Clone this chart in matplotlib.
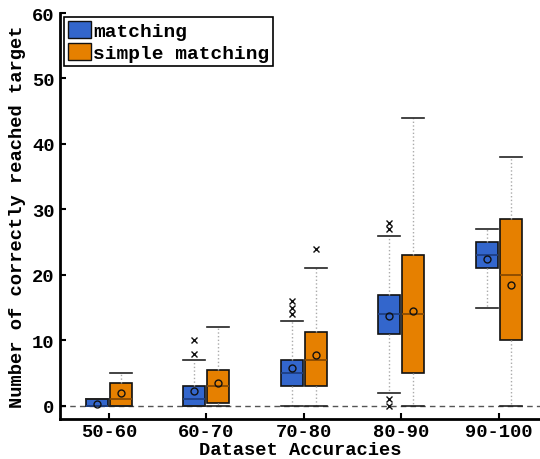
import matplotlib
matplotlib.use("Agg")
import matplotlib.pyplot as plt
from matplotlib.patches import Patch

groups = ["50-60", "60-70", "70-80", "80-90", "90-100"]

# matching
m_low = [0, 0, 0, 2, 15]
m_q1 = [0, 0, 3, 11, 21]
m_med = [0, 1, 5, 14, 23]
m_q3 = [1, 3, 7, 17, 25]
m_high = [1, 7, 13, 26, 27]
m_mean = [0.3, 2.2, 5.8, 13.8, 22.5]
m_fliers = [[], [8, 10], [14, 15, 16], [0, 1, 27, 28], []]

# simple matching
s_low = [0, 0, 0, 0, 0]
s_q1 = [0, 0.5, 3, 5, 10]
s_med = [1, 3, 7, 14, 20]
s_q3 = [3.5, 5.5, 11.3, 23, 28.5]
s_high = [5, 12, 21, 44, 38]
s_mean = [1.9, 3.5, 7.7, 14.5, 18.4]
s_fliers = [[], [], [24], [], []]

blue = "#3366cc"
orange = "#e68000"

plt.rcParams['font.family'] = ['Liberation Mono', 'DejaVu Sans Mono']
plt.rcParams['font.weight'] = 'bold'
plt.rcParams['axes.labelweight'] = 'bold'
plt.rcParams['font.size'] = 13.5

fig = plt.figure(figsize=(5.4, 4.6), dpi=100)
ax = fig.add_axes([60/540, 40/460, 480/540, 406/460])


def stats(low, q1, med, q3, high, mean, fl):
    return [dict(whislo=a, q1=b, med=c, q3=d, whishi=e, mean=f, fliers=g)
            for a, b, c, d, e, f, g in zip(low, q1, med, q3, high, mean, fl)]


off = 0.123
w = 0.225
for st, col, dcol, sh in [
        (stats(m_low, m_q1, m_med, m_q3, m_high, m_mean, m_fliers), blue, "#1d3f85", -off),
        (stats(s_low, s_q1, s_med, s_q3, s_high, s_mean, s_fliers), orange, "#8a4a00", off)]:
    pos = [i + 1 + sh for i in range(len(groups))]
    ax.bxp(st, positions=pos, widths=w, capwidths=w, patch_artist=True,
           showmeans=True, manage_ticks=False,
           boxprops=dict(facecolor=col, edgecolor="#111111", linewidth=1.2),
           medianprops=dict(color=dcol, linewidth=1.3),
           whiskerprops=dict(color="#aaaaaa", linestyle=":", linewidth=1),
           capprops=dict(color="#222222", linewidth=1.2),
           meanprops=dict(marker="o", markerfacecolor="none", markeredgecolor="#111111",
                          markersize=5, markeredgewidth=1),
           flierprops=dict(marker="x", markeredgecolor="#111111", markersize=5,
                           markeredgewidth=1))

ax.axhline(0, color="#555555", linestyle=(0, (4, 3)), linewidth=1, zorder=0.5)

ax.set_xlim(0.5, 5.42)
ax.set_ylim(-2, 60)
ax.set_xticks(range(1, len(groups) + 1))
ax.set_xticklabels(groups)
ax.set_yticks(range(0, 61, 10))
ax.tick_params(direction="in", length=4, width=1.5, pad=4)
ax.tick_params(axis="x", pad=3)
for s in ["top", "right"]:
    ax.spines[s].set_visible(False)
for s in ["left", "bottom"]:
    ax.spines[s].set_linewidth(2)

ax.set_xlabel("Dataset Accuracies", labelpad=0.5)
ax.set_ylabel("Number of correctly reached target", labelpad=4)

handles = [Patch(facecolor=blue, edgecolor="#111111"),
           Patch(facecolor=orange, edgecolor="#111111")]
leg = ax.legend(handles, ["matching", "simple matching"], loc="upper left",
                fancybox=False, framealpha=1, edgecolor="black", fontsize=14,
                handlelength=1.2, handleheight=1.0, handletextpad=0.1,
                labelspacing=0.15, borderpad=0.2, borderaxespad=0.2)
leg.get_frame().set_linewidth(1.2)

fig.savefig("out.png", dpi=100)
